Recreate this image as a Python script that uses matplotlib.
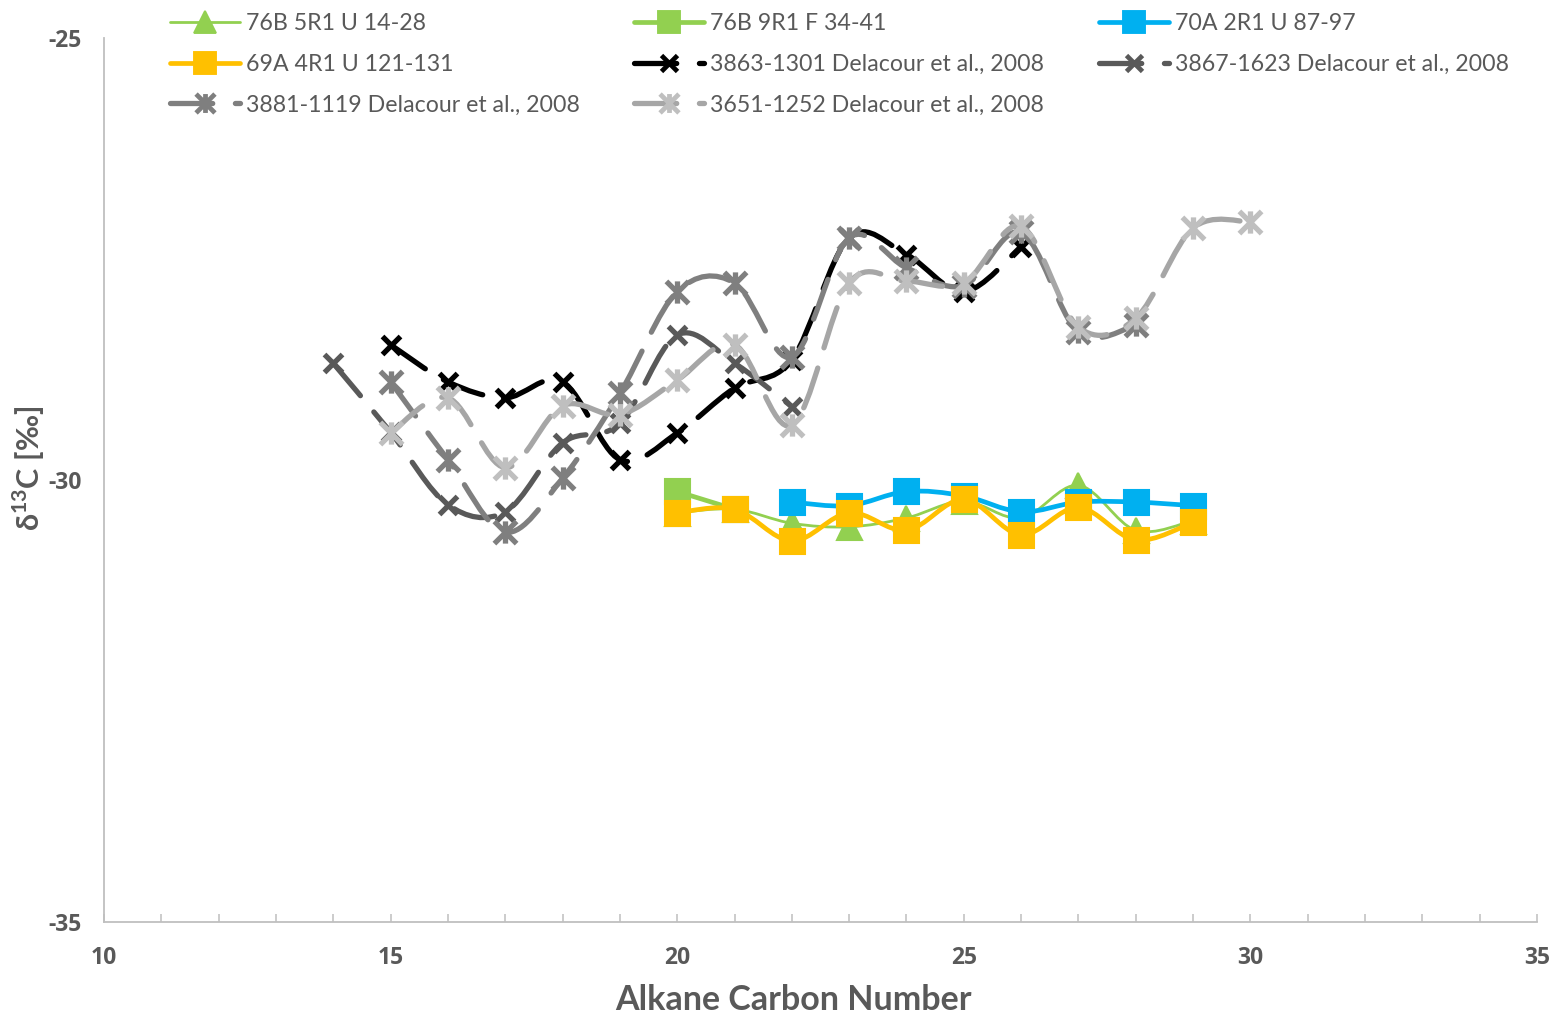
import numpy as np
import matplotlib
matplotlib.use('Agg')
import matplotlib.pyplot as plt
from matplotlib.path import Path
from matplotlib.patches import PathPatch
from matplotlib.lines import Line2D

plt.rcParams['font.family'] = ['Lato', 'DejaVu Sans']
plt.rcParams['mathtext.fontset'] = 'custom'
plt.rcParams['mathtext.bf'] = 'Lato:bold'
plt.rcParams['mathtext.rm'] = 'Lato'
plt.rcParams['axes.unicode_minus'] = False

TEXT = '#595959'

# --- data ---
x_76b5 = [20, 21, 22, 23, 24, 25, 26, 27, 28, 29]
y_76b5 = [-30.37, -30.33, -30.49, -30.53, -30.43, -30.24, -30.43, -30.06, -30.57, -30.46]

x_76b9 = [20, 21]
y_76b9 = [-30.13, -30.33]

x_70a = [22, 23, 24, 25, 26, 27, 28, 29]
y_70a = [-30.25, -30.29, -30.13, -30.18, -30.36, -30.25, -30.25, -30.29]

x_69a = [20, 21, 22, 23, 24, 25, 26, 27, 28, 29]
y_69a = [-30.37, -30.33, -30.69, -30.37, -30.57, -30.22, -30.62, -30.31, -30.68, -30.48]

x_3863 = [15, 16, 17, 18, 19, 20, 21, 22, 23, 24, 25, 26]
y_3863 = [-28.47, -28.89, -29.07, -28.89, -29.77, -29.47, -28.96, -28.64, -27.26, -27.45, -27.87, -27.36]

x_3867 = [14, 15, 16, 17, 18, 19, 20, 21, 22]
y_3867 = [-28.68, -29.46, -30.28, -30.36, -29.58, -29.36, -28.36, -28.68, -29.17]

x_3881 = [15, 16, 17, 18, 19, 20, 21, 22, 23, 24, 25, 26, 27, 28]
y_3881 = [-28.89, -29.77, -30.59, -29.98, -29.02, -27.87, -27.77, -28.61, -27.26, -27.6, -27.8, -27.2, -28.33, -28.25]

x_3651 = [15, 16, 17, 18, 19, 20, 21, 22, 23, 24, 25, 26, 27, 28, 29, 30]
y_3651 = [-29.47, -29.07, -29.86, -29.16, -29.26, -28.87, -28.47, -29.38, -27.77, -27.75, -27.77, -27.13, -28.27, -28.17, -27.15, -27.08]

# excel style asterisk marker: x plus vertical bar
star = Path([(-0.5, -0.5), (0.5, 0.5), (-0.5, 0.5), (0.5, -0.5), (0, -0.5), (0, 0.5)],
            [Path.MOVETO, Path.LINETO, Path.MOVETO, Path.LINETO, Path.MOVETO, Path.LINETO])

DASH = (0, (8, 4))

series = [
    dict(label='76B 5R1 U 14-28', x=x_76b5, y=y_76b5, color='#92D050', mcolor='#92D050',
         lw=2.0, marker='^', ms=18, mew=1.5, ls='-'),
    dict(label='76B 9R1 F 34-41', x=x_76b9, y=y_76b9, color='#92D050', mcolor='#92D050',
         lw=3.4, marker='s', ms=18, mew=1.5, ls='-'),
    dict(label='70A 2R1 U 87-97', x=x_70a, y=y_70a, color='#00B0F0', mcolor='#00B0F0',
         lw=3.4, marker='s', ms=18, mew=1.5, ls='-'),
    dict(label='69A 4R1 U 121-131', x=x_69a, y=y_69a, color='#FFC000', mcolor='#FFC000',
         lw=3.4, marker='s', ms=18, mew=1.5, ls='-'),
    dict(label='3863-1301 Delacour et al., 2008', x=x_3863, y=y_3863, color='#000000', mcolor='#000000',
         lw=3.8, marker='x', ms=13, mew=3.8, ls=DASH),
    dict(label='3867-1623 Delacour et al., 2008', x=x_3867, y=y_3867, color='#595959', mcolor='#595959',
         lw=3.8, marker='x', ms=13, mew=3.8, ls=DASH),
    dict(label='3881-1119 Delacour et al., 2008', x=x_3881, y=y_3881, color='#7F7F7F', mcolor='#7F7F7F',
         lw=3.8, marker=star, ms=16, mew=3.8, ls=DASH),
    dict(label='3651-1252 Delacour et al., 2008', x=x_3651, y=y_3651, color='#A6A6A6', mcolor='#BFBFBF',
         lw=3.8, marker=star, ms=16, mew=3.8, ls=DASH),
]


def smooth_path(xs, ys):
    # bezier curve through the points, like excel's "smoothed line"
    pts = np.column_stack([xs, ys]).astype(float)
    n = len(pts)
    verts = [pts[0]]
    codes = [Path.MOVETO]
    for i in range(n - 1):
        p0 = pts[i - 1] if i > 0 else pts[i]
        p1 = pts[i]
        p2 = pts[i + 1]
        p3 = pts[i + 2] if i + 2 < n else pts[i + 1]
        verts += [p1 + (p2 - p0) / 6, p2 - (p3 - p1) / 6, p2]
        codes += [Path.CURVE4] * 3
    return Path(verts, codes)


fig = plt.figure(figsize=(15.62, 10.19), dpi=100)
ax = fig.add_axes([104 / 1562, 1 - 922 / 1019, (1537 - 104) / 1562, (922 - 38) / 1019])

handles = []
for i, s in enumerate(series):
    patch = PathPatch(smooth_path(s['x'], s['y']), fill=False, edgecolor=s['color'],
                      lw=s['lw'], linestyle=s['ls'], capstyle='round', joinstyle='round',
                      zorder=2 + 2 * i)
    ax.add_patch(patch)
    ax.plot(s['x'], s['y'], linestyle='none', marker=s['marker'], ms=s['ms'],
            mfc=s['mcolor'], mec=s['mcolor'], mew=s['mew'], zorder=3 + 2 * i)
    # legend sample: long dash under the marker, then a dot, as excel draws it
    h = Line2D([], [], color=s['color'], lw=s['lw'],
               linestyle=(0, (8.0, 4.3)) if s['ls'] != '-' else '-',
               marker=s['marker'], ms=s['ms'] * 0.85, mfc=s['mcolor'], mec=s['mcolor'],
               mew=s['mew'] * 0.9, dash_capstyle='round', solid_capstyle='round')
    handles.append(h)

ax.set_xlim(10, 35)
ax.set_ylim(-35, -25)
ax.set_xticks([10, 15, 20, 25, 30, 35])
ax.set_xticks(np.arange(10, 36, 1), minor=True)
ax.set_yticks([-35, -30, -25])

for side in ['top', 'right']:
    ax.spines[side].set_visible(False)
for side in ['left', 'bottom']:
    ax.spines[side].set_color('#BFBFBF')
    ax.spines[side].set_linewidth(1.3)

ax.tick_params(axis='x', which='both', direction='in', length=6, width=1.1,
               color='#BFBFBF', pad=17, labelcolor=TEXT)
ax.tick_params(axis='y', length=0, pad=16, labelcolor=TEXT)
for lbl in ax.get_xticklabels() + ax.get_yticklabels():
    lbl.set_fontweight('bold')
    lbl.set_fontfamily(['Open Sans', 'DejaVu Sans'])
    lbl.set_fontsize(16.5)

fig.text(793 / 1562, 1 - 1000 / 1019, 'Alkane Carbon Number', ha='center', va='center',
         fontsize=24.5, fontweight='bold', color=TEXT)
fig.text(29 / 1562, 1 - 468 / 1019, r'δ$^{\mathbf{13}}$C [‰]', ha='center', va='center',
         rotation=90, fontsize=22, fontweight='bold', color=TEXT)

# legend filled row by row like excel (matplotlib fills columns)
order = [0, 3, 6, 1, 4, 7, 2, 5]
fig.legend([handles[k] for k in order], [series[k]['label'] for k in order],
           ncol=3, loc='upper left', bbox_to_anchor=(170 / 1562, 1 - 13 / 1019),
           frameon=False, fontsize=16.7, labelcolor=TEXT, numpoints=1,
           handlelength=3.0, handletextpad=0.26, columnspacing=2.37,
           labelspacing=0.85, borderaxespad=0, borderpad=0)

fig.savefig('out.png', dpi=100)
